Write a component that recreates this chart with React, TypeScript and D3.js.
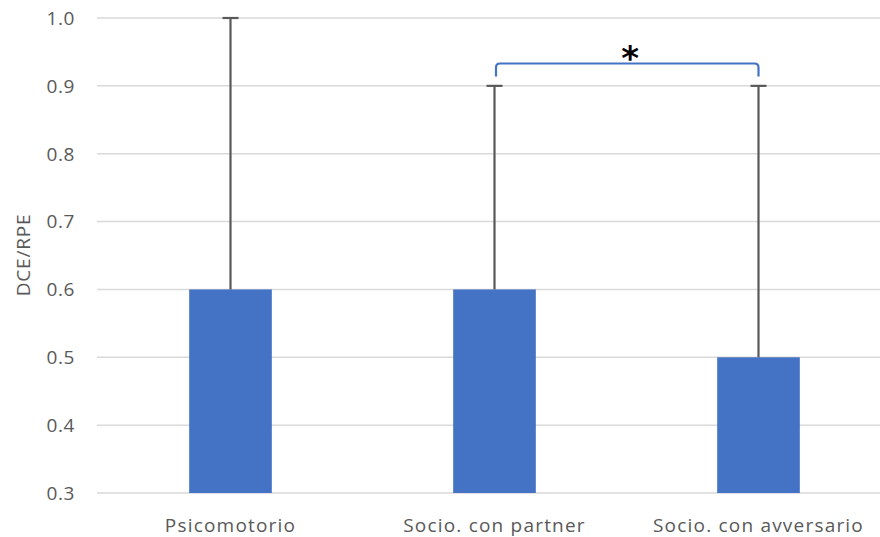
import {useEffect, useRef} from 'react';
import * as d3 from 'd3';

const categories = ['Psicomotorio', 'Socio. con partner', 'Socio. con avversario'];
const means = [0.6, 0.6, 0.5];
const upper = [1.0, 0.9, 0.9];
const yTicks = [0.3, 0.4, 0.5, 0.6, 0.7, 0.8, 0.9, 1.0];

export default function App() {
    const ref = useRef<SVGSVGElement>(null);

    useEffect(() => {
        const width = 880;
        const height = 537;
        const svg = d3.select(ref.current);
        svg.selectAll('*').remove();
        svg.attr('viewBox', `0 0 ${width} ${height}`);

        const font = "'Open Sans', sans-serif";
        const grey = '#595959';
        const left = 97;

        const x = d3.scaleBand().domain(categories).range([98.5, 890.5]).padding(0);
        const barW = x.bandwidth() * 0.313;
        const y = d3.scaleLinear().domain([0.3, 1.0]).range([493, 18]);

        // gridlines
        svg
            .append('g')
            .selectAll('line')
            .data(yTicks)
            .enter()
            .append('line')
            .attr('x1', left)
            .attr('x2', width)
            .attr('y1', (d) => y(d))
            .attr('y2', (d) => y(d))
            .attr('stroke', '#d9d9d9')
            .attr('stroke-width', 1.5);

        // tick labels
        svg
            .append('g')
            .selectAll('text')
            .data(yTicks)
            .enter()
            .append('text')
            .attr('x', 75)
            .attr('y', (d) => y(d))
            .attr('dy', '0.36em')
            .attr('text-anchor', 'end')
            .attr('fill', grey)
            .attr('font-family', font)
            .attr('font-size', '19px')
            .attr('letter-spacing', '0.6px')
            .text((d) => d.toFixed(1));

        // y label
        svg
            .append('text')
            .attr('transform', `translate(30, 255) rotate(-90)`)
            .attr('text-anchor', 'middle')
            .attr('fill', grey)
            .attr('font-family', font)
            .attr('font-size', '19px')
            .attr('letter-spacing', '0.8px')
            .text('DCE/RPE');

        const cx = (c: string) => (x(c) as number) + x.bandwidth() / 2;

        // bars
        svg
            .append('g')
            .selectAll('rect')
            .data(categories)
            .enter()
            .append('rect')
            .attr('x', (c) => cx(c) - barW / 2)
            .attr('y', (c, i) => y(means[i]))
            .attr('width', barW)
            .attr('height', (c, i) => y(0.3) - y(means[i]))
            .attr('fill', '#4472c4');

        // error bars
        const err = svg.append('g').attr('stroke', grey).attr('stroke-width', 2.2);
        categories.forEach((c, i) => {
            err.append('line')
                .attr('x1', cx(c)).attr('x2', cx(c))
                .attr('y1', y(means[i])).attr('y2', y(upper[i]));
            err.append('line')
                .attr('x1', cx(c) - 8).attr('x2', cx(c) + 8)
                .attr('y1', y(upper[i])).attr('y2', y(upper[i]));
        });

        // x labels
        svg
            .append('g')
            .selectAll('text')
            .data(categories)
            .enter()
            .append('text')
            .attr('x', (c) => cx(c))
            .attr('y', 532)
            .attr('text-anchor', 'middle')
            .attr('fill', grey)
            .attr('font-family', font)
            .attr('font-size', '19px')
            .attr('letter-spacing', '1.2px')
            .text((c) => c);

        // significance bracket
        const x1 = cx(categories[1]) + 1.5;
        const x2 = cx(categories[2]);
        const by = 63.5;
        const bottom = 76.5;
        const r = 4;
        svg
            .append('path')
            .attr(
                'd',
                `M${x1},${bottom} L${x1},${by + r} Q${x1},${by} ${x1 + r},${by} L${x2 - r},${by} Q${x2},${by} ${x2},${by + r} L${x2},${bottom}`
            )
            .attr('fill', 'none')
            .attr('stroke', '#4472c4')
            .attr('stroke-width', 2.2);

        svg
            .append('text')
            .attr('x', (x1 + x2) / 2 + 3)
            .attr('y', 70)
            .attr('text-anchor', 'middle')
            .attr('font-family', "'DejaVu Sans', sans-serif")
            .attr('font-weight', 'bold')
            .attr('font-size', '34px')
            .attr('fill', '#000')
            .text('*');
    }, []);

    return <svg ref={ref} width={880} height={537} style={{display: 'block', position: 'absolute', left: 0, top: 0}}></svg>;
}
